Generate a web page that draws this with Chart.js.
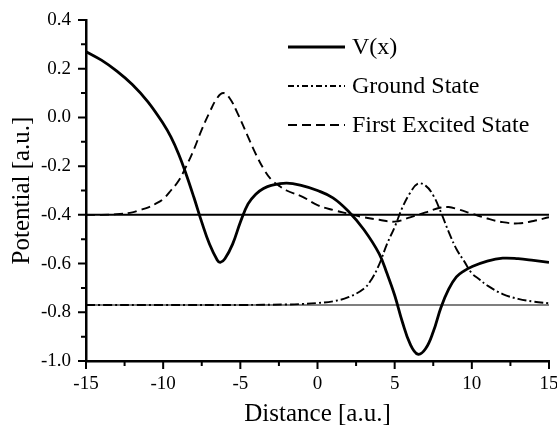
<!DOCTYPE html>
<html>
<head>
<meta charset="utf-8">
<style>
  html, body { margin: 0; padding: 0; background: #fff; }
  #wrap { width: 557px; height: 438px; }
</style>
<script src="https://cdn.jsdelivr.net/npm/chart.js@4.4.1/dist/chart.umd.min.js"></script>
</head>
<body>
<div id="wrap"><canvas id="potChart"></canvas></div>
<script>
// V(x)
const xV = [-15, -14, -13, -12, -11, -10, -9.5, -9, -8.5, -8, -7.5, -7, -6.5, -6.3, -6, -5.5, -5, -4.5, -4, -3.5, -3, -2, -1, 0, 1, 2, 3, 4, 4.5, 5, 5.5, 6, 6.5, 7, 7.5, 8, 8.5, 9, 9.5, 10, 11, 12, 13, 14, 15];
const vV = [0.27, 0.235, 0.19, 0.135, 0.065, -0.025, -0.08, -0.15, -0.235, -0.33, -0.43, -0.52, -0.585, -0.595, -0.58, -0.52, -0.43, -0.355, -0.315, -0.292, -0.279, -0.27, -0.28, -0.3, -0.33, -0.385, -0.46, -0.56, -0.64, -0.73, -0.84, -0.93, -0.972, -0.95, -0.88, -0.78, -0.705, -0.655, -0.63, -0.613, -0.59, -0.578, -0.58, -0.587, -0.595];

// ground state
const xG = [-15, -10, -5, -2, -1, 0, 1, 2, 3, 3.5, 4, 4.5, 5, 5.5, 6, 6.5, 7, 7.5, 8, 8.5, 9, 9.5, 10, 10.5, 11, 12, 13, 14, 15];
const vG = [-0.77, -0.77, -0.77, -0.768, -0.766, -0.762, -0.755, -0.738, -0.703, -0.665, -0.603, -0.52, -0.45, -0.37, -0.31, -0.272, -0.28, -0.32, -0.39, -0.47, -0.54, -0.59, -0.64, -0.665, -0.69, -0.725, -0.745, -0.756, -0.763];

// first excited state
const xE = [-15, -14, -13, -12, -11.5, -11, -10.5, -10, -9.5, -9, -8.5, -8, -7.5, -7, -6.5, -6.1, -5.7, -5.2, -4.5, -4, -3.5, -3, -2.5, -2, -1, 0, 1, 2, 3, 4, 5, 6, 7, 8, 8.5, 9, 10, 11, 12, 13, 14, 15];
const vE = [-0.4, -0.4, -0.397, -0.39, -0.38, -0.37, -0.355, -0.335, -0.3, -0.26, -0.2, -0.13, -0.05, 0.02, 0.08, 0.1, 0.08, 0.02, -0.08, -0.15, -0.21, -0.255, -0.28, -0.3, -0.325, -0.36, -0.38, -0.395, -0.41, -0.42, -0.428, -0.41, -0.39, -0.37, -0.368, -0.375, -0.395, -0.415, -0.43, -0.435, -0.425, -0.41];

// energy levels
const levelX = [-15, 15];
const excitedLevel = -0.40;
const groundLevel = -0.77;

const xTicks = [-15, -10, -5, 0, 5, 10, 15];
const yTicks = [-1.0, -0.8, -0.6, -0.4, -0.2, 0.0, 0.2, 0.4];

const serif = '"Liberation Serif", "DejaVu Serif", serif';

function pts(xs, ys) {
    return xs.map((x, i) => ({ x: x, y: ys[i] }));
}

// major + minor tick marks, pointing outward
const axisTicks = {
    id: 'axisTicks',
    afterDraw(chart) {
        const { ctx, chartArea, scales } = chart;
        ctx.save();
        ctx.strokeStyle = '#000';
        ctx.lineWidth = 2;
        ctx.beginPath();
        xTicks.forEach((v, i) => {
            const px = scales.x.getPixelForValue(v);
            ctx.moveTo(px, chartArea.bottom);
            ctx.lineTo(px, chartArea.bottom + 8);
            if (i < xTicks.length - 1) {
                const mx = scales.x.getPixelForValue((v + xTicks[i + 1]) / 2);
                ctx.moveTo(mx, chartArea.bottom);
                ctx.lineTo(mx, chartArea.bottom + 5);
            }
        });
        yTicks.forEach((v, i) => {
            const py = scales.y.getPixelForValue(v);
            ctx.moveTo(chartArea.left, py);
            ctx.lineTo(chartArea.left - 8, py);
            if (i < yTicks.length - 1) {
                const my = scales.y.getPixelForValue((v + yTicks[i + 1]) / 2);
                ctx.moveTo(chartArea.left, my);
                ctx.lineTo(chartArea.left - 5, my);
            }
        });
        ctx.stroke();
        ctx.restore();
    }
};

// legend drawn inside the plot, top right
const innerLegend = {
    id: 'innerLegend',
    afterDraw(chart) {
        const ctx = chart.ctx;
        let row = 47;
        ctx.save();
        ctx.font = '24px ' + serif;
        ctx.fillStyle = '#000';
        ctx.textBaseline = 'middle';
        chart.data.datasets.forEach(ds => {
            if (!ds.label) return;
            ctx.strokeStyle = '#000';
            ctx.lineWidth = ds.borderWidth;
            ctx.setLineDash(ds.legendDash || []);
            ctx.beginPath();
            ctx.moveTo(288, row);
            ctx.lineTo(345, row);
            ctx.stroke();
            ctx.setLineDash([]);
            ctx.fillText(ds.label, 352, row + 1);
            row += 39;
        });
        ctx.restore();
    }
};

const ctx = document.getElementById('potChart').getContext('2d');
const potChart = new Chart(ctx, {
    type: 'line',
    data: {
        datasets: [{
            label: 'V(x)',
            data: pts(xV, vV),
            borderColor: '#000',
            borderWidth: 2.8
        }, {
            label: 'Ground State',
            data: pts(xG, vG),
            borderColor: '#000',
            borderWidth: 1.9,
            borderDash: [9, 3, 2, 3],
            legendDash: [6, 3, 2, 3]
        }, {
            label: 'First Excited State',
            data: pts(xE, vE),
            borderColor: '#000',
            borderWidth: 1.9,
            borderDash: [9, 5],
            legendDash: [9, 5]
        }, {
            label: '',
            data: levelX.map(x => ({ x: x, y: excitedLevel })),
            borderColor: '#000',
            borderWidth: 2,
            tension: 0
        }, {
            label: '',
            data: levelX.map(x => ({ x: x, y: groundLevel })),
            borderColor: '#000',
            borderWidth: 1.2,
            tension: 0
        }]
    },
    options: {
        responsive: true,
        maintainAspectRatio: false,
        animation: false,
        layout: {
            autoPadding: false,
            padding: { left: 0, right: 8, top: 20, bottom: 0 }
        },
        elements: {
            point: { radius: 0 },
            line: { fill: false, tension: 0.4 }
        },
        plugins: {
            legend: { display: false },
            tooltip: { enabled: false }
        },
        scales: {
            x: {
                type: 'linear',
                min: -15,
                max: 15,
                afterFit: s => { s.height = 77; s.paddingLeft = 0; s.paddingRight = 0; },
                afterBuildTicks: s => { s.ticks = xTicks.map(v => ({ value: v })); },
                ticks: {
                    color: '#000',
                    font: { family: serif, size: 19 },
                    padding: 12,
                    maxRotation: 0,
                    callback: v => String(v)
                },
                grid: { display: false, drawTicks: false },
                border: { display: true, color: '#000', width: 2.5 },
                title: {
                    display: true,
                    text: 'Distance [a.u.]',
                    color: '#000',
                    font: { family: serif, size: 25, lineHeight: 1.2 },
                    padding: { top: 9, bottom: 9 }
                }
            },
            y: {
                min: -1.0,
                max: 0.4,
                afterFit: s => { s.width = 86; s.paddingTop = 0; s.paddingBottom = 0; },
                afterBuildTicks: s => { s.ticks = yTicks.map(v => ({ value: v })); },
                ticks: {
                    color: '#000',
                    font: { family: serif, size: 19 },
                    padding: 15,
                    callback: v => v.toFixed(1)
                },
                grid: { display: false, drawTicks: false },
                border: { display: true, color: '#000', width: 2.5 },
                title: {
                    display: true,
                    text: 'Potential [a.u.]',
                    color: '#000',
                    font: { family: serif, size: 25, lineHeight: 1.2 },
                    padding: { top: 7, bottom: 7 }
                }
            }
        }
    },
    plugins: [axisTicks, innerLegend]
});
</script>
</body>
</html>
